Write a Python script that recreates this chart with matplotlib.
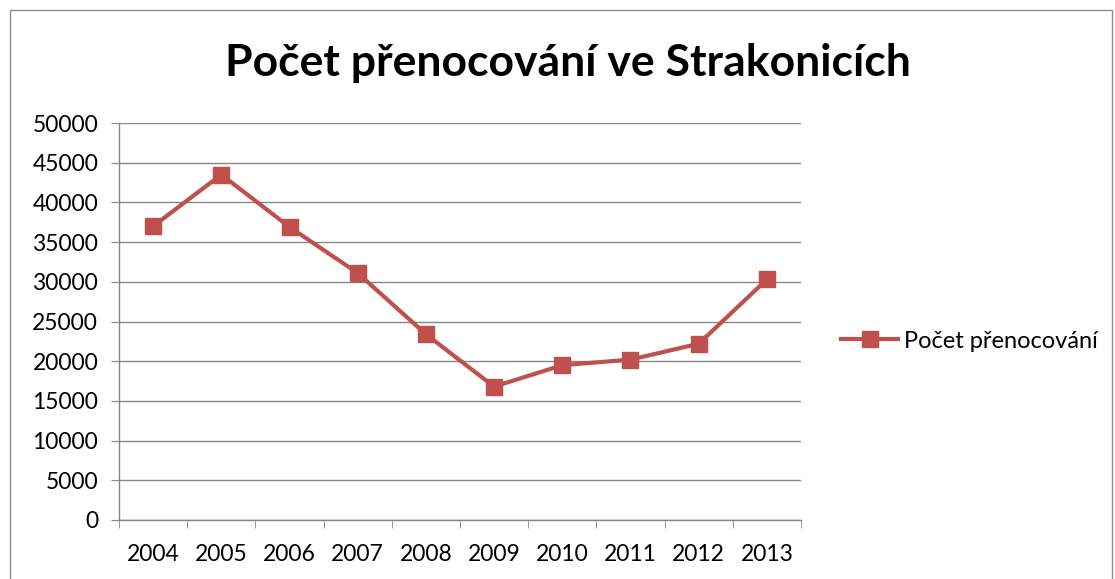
import matplotlib
matplotlib.use("Agg")
import matplotlib.pyplot as plt
from matplotlib.patches import Rectangle
from matplotlib.lines import Line2D

years = ["2004", "2005", "2006", "2007", "2008", "2009", "2010", "2011", "2012", "2013"]
values = [37000, 43500, 36900, 31100, 23400, 16800, 19500, 20200, 22200, 30300]
series_name = "Počet přenocování"
title = "Počet přenocování ve Strakonicích"

plt.rcParams['font.family'] = ['Lato', 'DejaVu Sans']
W, H = 1115, 579
fig = plt.figure(figsize=(W / 100, H / 100), dpi=100)
ax = fig.add_axes([119 / W, (H - 520) / H, (801 - 119) / W, (520 - 123) / H])

color = "#C0504D"
grid_c = "#868686"
xs = list(range(len(years)))
ax.plot(xs, values, color=color, lw=3, marker="s", markersize=11,
        markerfacecolor=color, markeredgecolor=color, solid_joinstyle="round", zorder=3)

ax.set_xlim(-0.5, len(years) - 0.5)
ax.set_ylim(0, 50000)
ax.set_yticks(range(0, 50001, 5000))
ax.set_yticklabels([str(v) for v in range(0, 50001, 5000)])
ax.set_xticks(xs)
ax.set_xticklabels(years)
ax.set_xticks([i - 0.5 for i in range(len(years) + 1)], minor=True)
ax.tick_params(axis="x", which="major", length=0, pad=17, labelsize=16.5)
ax.tick_params(axis="x", which="minor", length=6, color=grid_c, direction="out")
ax.tick_params(axis="y", length=6, color=grid_c, labelsize=16.5, pad=9)
ax.yaxis.grid(True, color=grid_c, lw=1)
ax.set_axisbelow(True)
for s in ["top", "right"]:
    ax.spines[s].set_visible(False)
for s in ["left", "bottom"]:
    ax.spines[s].set_color(grid_c)
    ax.spines[s].set_linewidth(1)

fig.text(568 / W, (H - 63) / H, title, ha="center", va="center",
         fontsize=32, fontweight="bold")

handle = Line2D([], [], color=color, lw=3, marker="s", markersize=11,
                markerfacecolor=color, markeredgecolor=color)
fig.legend([handle], [series_name], loc="center left",
           bbox_to_anchor=(832 / W, (H - 341) / H), frameon=False,
           fontsize=17, handlelength=2.4, handletextpad=0.25, borderaxespad=0)

fig.patches.append(Rectangle((10 / W, -0.01), (1112 - 10) / W, (H - 10) / H + 0.01,
                             transform=fig.transFigure, fill=False,
                             edgecolor="#8C8C8C", lw=1))
fig.savefig("out.png", dpi=100)
